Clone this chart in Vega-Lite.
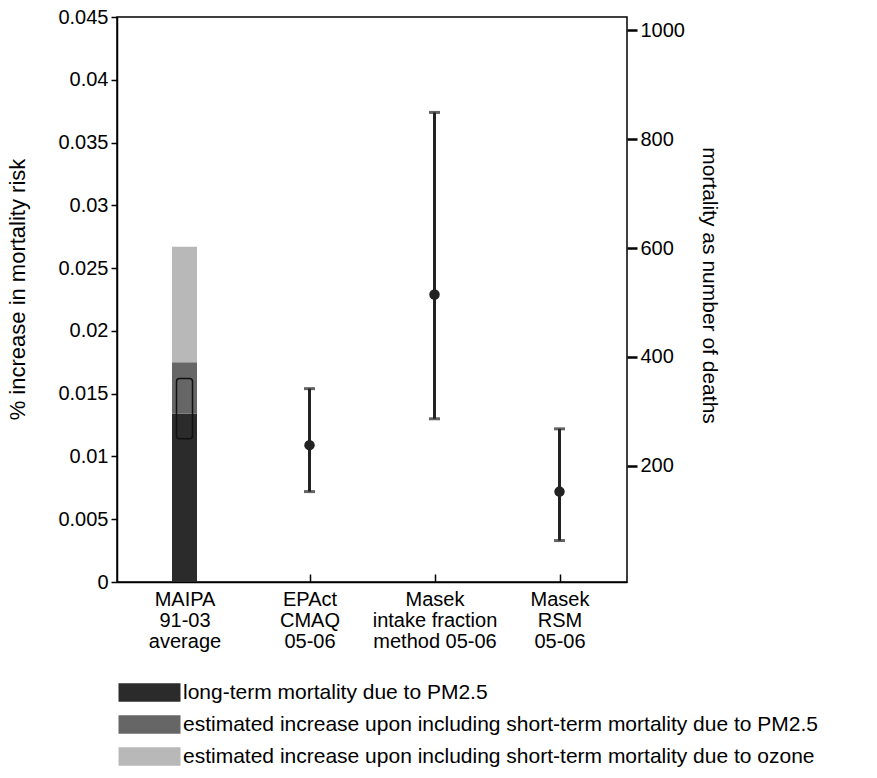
{
  "$schema": "https://vega.github.io/schema/vega-lite/v6.json",
  "width": 510,
  "height": 565,
  "autosize": "none",
  "padding": {"left": 117, "top": 17, "right": 250, "bottom": 196},
  "background": "white",
  "config": {
    "font": "Liberation Sans",
    "view": {"stroke": "black", "strokeWidth": 1.5},
    "axis": {"grid": false, "labelFont": "Liberation Sans", "titleFont": "Liberation Sans", "labelColor": "black", "titleColor": "black", "domainColor": "black", "tickColor": "black", "labelFontSize": 20, "titleFontSize": 21, "titleFontWeight": "normal", "domainWidth": 1.5, "tickWidth": 1.5}
  },
  "datasets": {
    "bars": [
      {"method": "MAIPA|91-03|average", "component": "long-term mortality due to PM2.5", "low": 0, "high": 0.0134},
      {"method": "MAIPA|91-03|average", "component": "estimated increase upon including short-term mortality due to PM2.5", "low": 0.0134, "high": 0.0175},
      {"method": "MAIPA|91-03|average", "component": "estimated increase upon including short-term mortality due to ozone", "low": 0.0175, "high": 0.0267}
    ],
    "box": [
      {"method": "MAIPA|91-03|average", "low": 0.0114, "high": 0.0162}
    ],
    "estimates": [
      {"method": "EPAct|CMAQ|05-06", "mid": 0.0109, "low": 0.0072, "high": 0.0154, "deaths": 237},
      {"method": "Masek|intake fraction|method 05-06", "mid": 0.0229, "low": 0.0130, "high": 0.0374, "deaths": 514},
      {"method": "Masek|RSM|05-06", "mid": 0.0072, "low": 0.0033, "high": 0.0122, "deaths": 152}
    ]
  },
  "encoding": {
    "x": {
      "field": "method", "type": "nominal",
      "scale": {"type": "point", "padding": 0.54, "domain": ["MAIPA|91-03|average", "EPAct|CMAQ|05-06", "Masek|intake fraction|method 05-06", "Masek|RSM|05-06"]},
      "axis": {"title": null, "labelAngle": 0, "labelExpr": "split(datum.label, '|')", "tickSize": -8, "labelPadding": 15, "labelLineHeight": 21, "zindex": 0}
    }
  },
  "layer": [
    {
      "encoding": {
        "y": {"type": "quantitative", "scale": {"domain": [0, 0.045], "nice": false, "zero": false}, "axis": {"title": "% increase in mortality risk", "titleFontSize": 22, "titleY": 272, "values": [0, 0.005, 0.01, 0.015, 0.02, 0.025, 0.03, 0.035, 0.04, 0.045], "format": "~g", "tickSize": 6, "labelPadding": 3, "titlePadding": 28, "zindex": 0}}
      },
      "layer": [
        {
          "data": {"name": "bars"},
          "mark": {"type": "bar", "size": 25},
          "encoding": {
            "y": {"field": "low", "type": "quantitative"},
            "y2": {"field": "high"},
            "color": {
              "field": "component", "type": "nominal",
              "scale": {"domain": ["long-term mortality due to PM2.5", "estimated increase upon including short-term mortality due to PM2.5", "estimated increase upon including short-term mortality due to ozone"], "range": ["#2b2b2b", "#666666", "#b8b8b8"]},
              "legend": {"title": null, "orient": "none", "legendX": 22, "legendY": 665, "direction": "vertical", "symbolType": "M-3,-0.9H3V0.9H-3Z", "symbolSize": 427, "symbolStrokeWidth": 0, "labelFontSize": 21, "labelFont": "Liberation Sans", "labelColor": "black", "labelLimit": 800, "labelOffset": 23, "rowPadding": 10, "padding": 0}
            }
          }
        },
        {
          "data": {"name": "box"},
          "mark": {"type": "bar", "size": 16, "fill": null, "fillOpacity": 0, "stroke": "#111", "strokeWidth": 1.5, "cornerRadius": 3},
          "encoding": {
            "y": {"field": "low", "type": "quantitative"},
            "y2": {"field": "high"}
          }
        },
        {
          "data": {"name": "estimates"},
          "mark": {"type": "rule", "strokeWidth": 3, "color": "#222"},
          "encoding": {
            "y": {"field": "low", "type": "quantitative"},
            "y2": {"field": "high"}
          }
        },
        {
          "data": {"name": "estimates"},
          "mark": {"type": "tick", "orient": "horizontal", "size": 11, "thickness": 3, "color": "#222"},
          "encoding": {
            "y": {"field": "low", "type": "quantitative"}
          }
        },
        {
          "data": {"name": "estimates"},
          "mark": {"type": "tick", "orient": "horizontal", "size": 11, "thickness": 3, "color": "#222"},
          "encoding": {
            "y": {"field": "high", "type": "quantitative"}
          }
        },
        {
          "data": {"name": "estimates"},
          "mark": {"type": "point", "filled": true, "size": 110, "color": "#222", "opacity": 1},
          "encoding": {
            "y": {"field": "mid", "type": "quantitative"}
          }
        }
      ]
    },
    {
      "data": {"name": "estimates"},
      "mark": {"type": "point", "opacity": 0},
      "encoding": {
        "y": {"field": "deaths", "type": "quantitative", "scale": {"domain": [-13, 1024], "nice": false, "zero": false}, "axis": {"orient": "right", "title": "mortality as number of deaths", "titleY": 268, "values": [200, 400, 600, 800, 1000], "format": "d", "tickSize": 10, "tickWidth": 2.5, "labelPadding": 3, "titlePadding": 14, "domain": false}}
      }
    }
  ],
  "resolve": {"scale": {"y": "independent"}}
}
